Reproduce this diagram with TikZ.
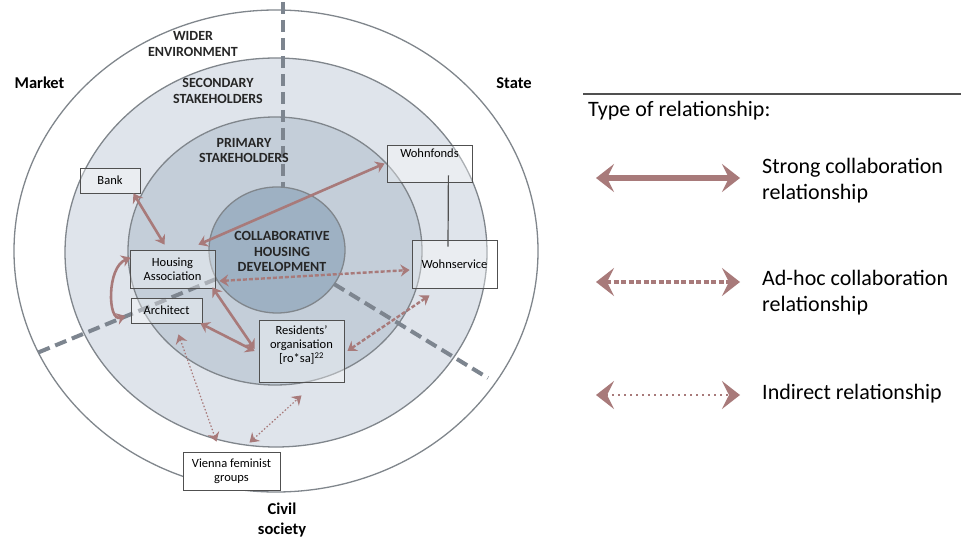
\documentclass[tikz,border=0pt]{standalone}
\usepackage{fontspec}
\setmainfont{Carlito}
\usetikzlibrary{arrows.meta}

\definecolor{rel}{RGB}{168,122,122}
\definecolor{ringline}{RGB}{128,134,140}
\definecolor{secfill}{RGB}{223,228,235}
\definecolor{primfill}{RGB}{196,206,217}
\definecolor{corefill}{RGB}{158,177,195}
\definecolor{axis}{RGB}{125,133,143}
\definecolor{boxline}{RGB}{80,80,80}

\begin{document}
\begin{tikzpicture}[x=1pt,y=-1pt,>={Stealth[length=9pt,width=12pt,inset=3pt]},
    ring/.style={draw=ringline,line width=1.3pt},
    axis line/.style={draw=axis,line width=4pt,dash pattern=on 12pt off 6pt},
    actor/.style={draw=boxline,line width=0.8pt,fill=white,fill opacity=0.35,text opacity=1,
                  align=center,inner sep=0pt,font=\fontsize{12.5}{14}\selectfont},
    layer/.style={align=center,text=black!85,font=\bfseries\fontsize{14}{15.5}\selectfont},
    sector/.style={align=center,font=\bfseries\fontsize{16.5}{19.5}\selectfont},
    strong/.style={<->,color=rel,line width=2.6pt},
    adhoc/.style={<->,color=rel,line width=2.4pt,dash pattern=on 4pt off 2pt},
    indirect/.style={<->,color=rel,line width=1.2pt,dash pattern=on 1.5pt off 2pt},
    bigtips/.style={{Stealth[length=18pt,width=28pt,inset=7pt]}-{Stealth[length=18pt,width=28pt,inset=7pt]}},
    legend/.style={anchor=west,align=left,inner sep=0pt,font=\fontsize{22}{26}\selectfont}]

  \fill[white] (0,0) rectangle (961,537);
  \useasboundingbox (0,0) rectangle (961,537);

  \draw[ring,fill=white] (276,251) ellipse [x radius=262pt,y radius=241pt];
  \draw[ring,fill=secfill] (276,252.5) ellipse [x radius=211pt,y radius=194.5pt];
  \draw[ring,fill=primfill] (275,251) ellipse [x radius=147pt,y radius=134pt];
  \draw[ring,fill=corefill] (277,250) ellipse [x radius=68pt,y radius=63pt];

  \draw[axis line] (283,2) -- (283,187);
  \draw[axis line] (216,279) -- (37,353);
  \draw[axis line] (334,284) -- (488,378);

  \node[layer] (wider) at (193,44) {WIDER\\ENVIRONMENT};
  \node[layer] (secondary) at (218,91) {SECONDARY\\STAKEHOLDERS};
  \node[layer] (primary) at (244,150.5) {PRIMARY\\STAKEHOLDERS};
  \node[layer] (core) at (282,251.5) {COLLABORATIVE\\HOUSING\\DEVELOPMENT};
  \node[sector] (market) at (39.5,83) {Market};
  \node[sector] (state) at (514,83) {State};
  \node[sector] (civil) at (282,520) {Civil\\society};

  \node[actor,minimum width=60pt,minimum height=25pt] (bank) at (110,180.5) {Bank};
  \node[actor,minimum width=85pt,minimum height=38pt] (housing) at (172.5,269) {Housing\\Association};
  \node[actor,minimum width=71pt,minimum height=25pt] (architect) at (166.5,310.5) {Architect};
  \node[actor,minimum width=85pt,minimum height=62pt,text depth=13pt] (residents) at (301.5,351)
    {Residents'\\organisation\\{[ro*sa]}\textsuperscript{22}};
  \node[actor,minimum width=85pt,text height=13pt,text depth=24pt] (wohnfonds) at (429.5,163.5) {Wohnfonds};
  \node[actor,minimum width=85pt,minimum height=48pt] (wohnservice) at (454.5,264) {Wohnservice};
  \node[actor,minimum width=97pt,minimum height=38pt,fill opacity=1] (vienna) at (231.5,471) {Vienna feminist\\groups};

  \path[draw=boxline,line width=1.2pt]
    ([xshift=-24pt,yshift=7pt]wohnfonds.south east) edge ([xshift=-6.5pt,yshift=-7pt]wohnservice.north);

  \path[strong]
    ([xshift=-7pt]bank.south east) edge ([shift={(-8pt,5pt)}]housing.north)
    ([shift={(-17pt,5pt)}]housing.north east) edge ([xshift=-2pt]wohnfonds.west)
    ([shift={(1pt,-8pt)}]housing.north west) edge[to path={.. controls +(-24,10) and +(-18,6) .. (\tikztotarget)}]
      ([shift={(-5pt,-5.5pt)}]architect.west)
    ([shift={(-3pt,1pt)}]housing.south east) edge ([shift={(-4pt,2pt)}]residents.west)
    ([xshift=-2pt]architect.south east) edge ([xshift=-4pt]residents.west);

  \path[adhoc]
    ([shift={(4pt,-12pt)}]housing.east) edge ([shift={(-2pt,-6pt)}]wohnservice.west)
    ([xshift=3pt]residents.east) edge ([shift={(-25pt,-7pt)}]wohnservice.south);

  \path[indirect]
    ([shift={(12pt,-11pt)}]architect.south) edge ([shift={(-15pt,10pt)}]vienna.north)
    ([shift={(18pt,9pt)}]vienna.north) edge ([yshift=-13pt]residents.south);

  \draw[boxline,line width=1.3pt] (583,94) -- (961,94);
  \node[legend,anchor=base west] (title) at (588,117) {Type of relationship:};

  \coordinate (s1) at (596,178);  \coordinate (s2) at (740,178);
  \coordinate (a1) at (596,282);  \coordinate (a2) at (740,282);
  \coordinate (i1) at (596,395);  \coordinate (i2) at (740,395);

  \path[strong,bigtips,line width=6pt] (s1) edge (s2);
  \path[adhoc,bigtips,line width=4.5pt,dash pattern=on 5pt off 2.5pt] (a1) edge (a2);
  \path[indirect,bigtips,line width=2.5pt,dash pattern=on 2pt off 4pt] (i1) edge (i2);

  \node[legend] (strongtxt) at (762,181) {Strong collaboration\\relationship};
  \node[legend] (adhoctxt) at (762,292.5) {Ad-hoc collaboration\\relationship};
  \node[legend] (indirecttxt) at (762,394) {Indirect relationship};
\end{tikzpicture}
\end{document}
